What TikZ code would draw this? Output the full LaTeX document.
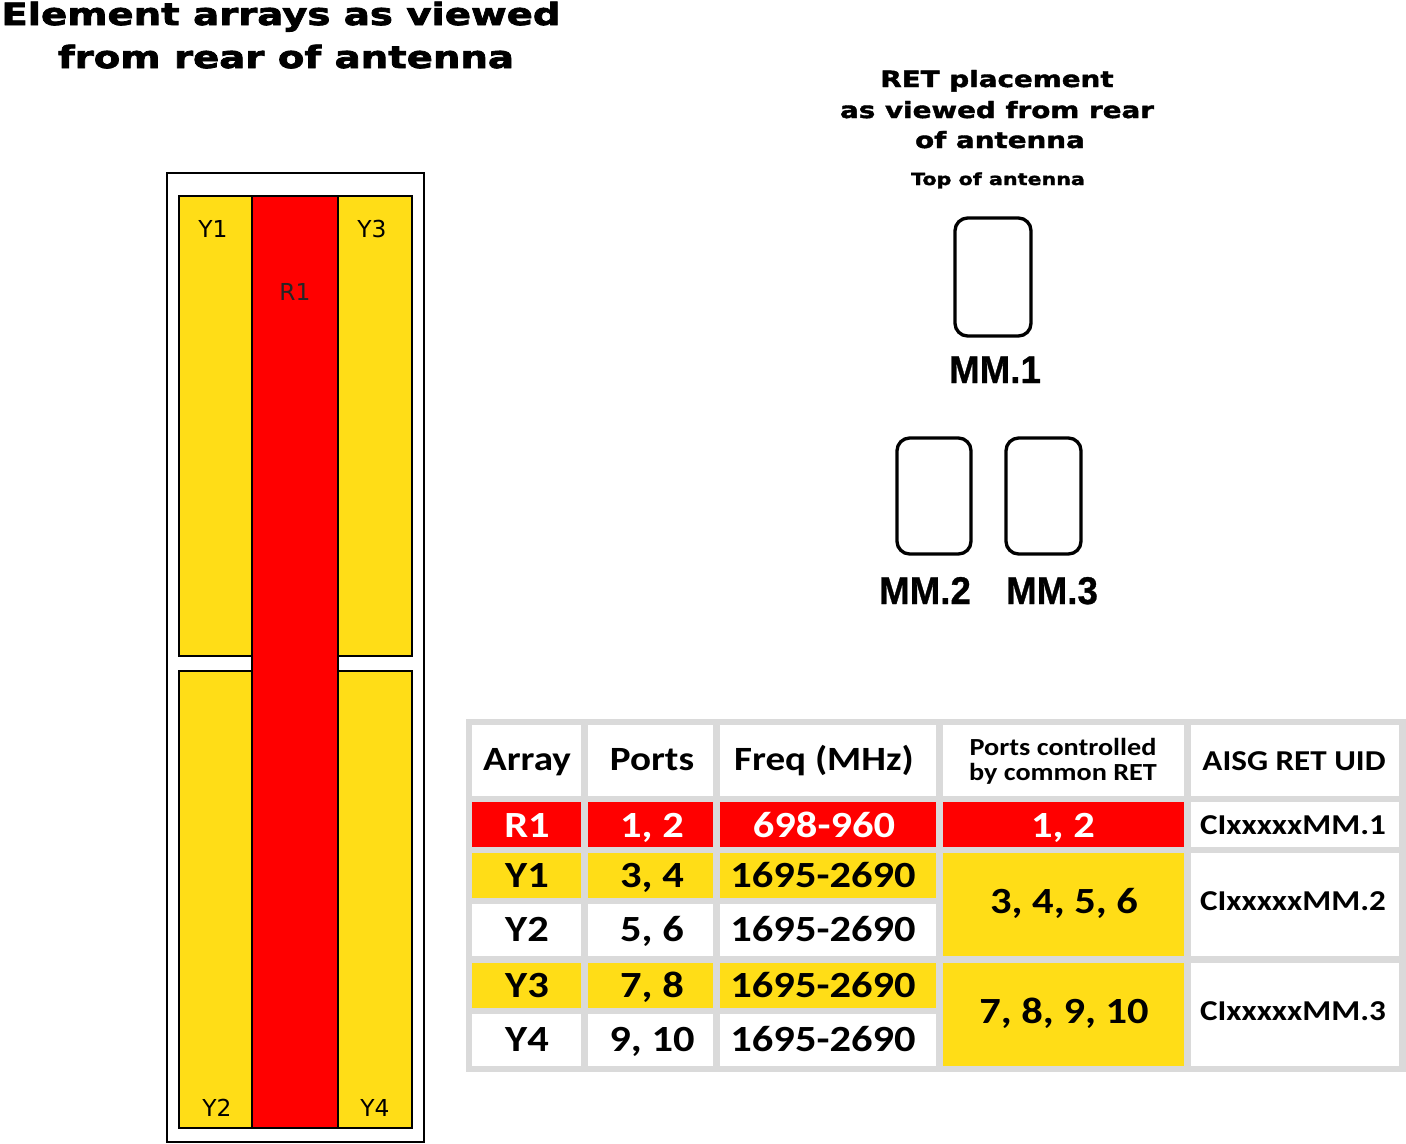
\documentclass[tikz,border=0pt]{standalone}
\usepackage{fontspec}
\newfontfamily\heavyfont{DejaVu Sans}[FakeStretch=1.26,BoldFeatures={FakeBold=2.5}]
\newfontfamily\heavysmall{DejaVu Sans}[FakeStretch=1.24,BoldFeatures={FakeBold=1.8}]
\newfontfamily\calfont{Carlito}[FakeStretch=1.15]
\newfontfamily\arialfont{Liberation Sans}[FakeStretch=0.95,BoldFeatures={FakeBold=0.8}]
\newfontfamily\verdfont{DejaVu Sans}
\definecolor{ayellow}{RGB}{255,221,23}
\definecolor{ared}{RGB}{255,0,0}
\definecolor{tgray}{RGB}{218,218,218}
\tikzset{
  elem/.style={line width=2.2pt, draw=black},
  retbox/.style={line width=2.5pt, draw=black, rounded corners=9.5pt},
  elab/.style={font=\verdfont\fontsize{17.5}{19}\selectfont, inner sep=0pt},
  mmlab/.style={font=\arialfont\bfseries\fontsize{29}{32}\selectfont, inner sep=0pt, anchor=base},
  ttl/.style={font=\heavyfont\bfseries\fontsize{23}{26}\selectfont, inner sep=0pt, anchor=base},
  rttl/.style={font=\heavysmall\bfseries\fontsize{16.8}{20}\selectfont, inner sep=0pt, anchor=base},
  hdr/.style={font=\calfont\bfseries\fontsize{25.5}{28}\selectfont, inner sep=0pt, anchor=base},
  hdrs/.style={font=\calfont\bfseries\fontsize{18.4}{20}\selectfont, inner sep=0pt, anchor=base},
  body/.style={font=\calfont\bfseries\fontsize{27.7}{30}\selectfont, inner sep=0pt, anchor=base},
  uid/.style={font=\calfont\bfseries\fontsize{21.6}{24}\selectfont, inner sep=0pt, anchor=base},
}
\begin{document}
\begin{tikzpicture}[x=0.75pt,y=-0.75pt]
\useasboundingbox[fill=white] (0,0) rectangle (1406,1143);

% titles
\node[ttl] (t1) at (281,25) {Element arrays as viewed};
\node[ttl] (t2) at (286,68) {from rear of antenna};
\node[rttl] (r1) at (997,87) {RET placement};
\node[rttl] (r2) at (997,118) {as viewed from rear};
\node[rttl] (r3) at (1000,148) {of antenna};
\node[font=\heavysmall\bfseries\fontsize{12.5}{14}\selectfont, inner sep=0pt, anchor=base] (top) at (998,185) {Top of antenna};

% antenna
\draw[line width=1.1pt] (167,173) rectangle (424,1142);
\fill[ayellow] (179,196) rectangle (252,656);
\draw[elem] (179,196) rectangle (252,656);
\fill[ayellow] (338,196) rectangle (412,656);
\draw[elem] (338,196) rectangle (412,656);
\fill[ayellow] (179,671) rectangle (252,1128);
\draw[elem] (179,671) rectangle (252,1128);
\fill[ayellow] (338,671) rectangle (412,1128);
\draw[elem] (338,671) rectangle (412,1128);
\fill[ared] (252,196) rectangle (338,1128);
\draw[elem] (252,196) rectangle (338,1128);
\node[elab] (ly1) at (213,229) {Y1};
\node[elab] (ly3) at (372,229) {Y3};
\node[elab, text=black!85] (lr1) at (295,292) {R1};
\node[elab] (ly2) at (217,1108) {Y2};
\node[elab] (ly4) at (375,1108) {Y4};

% RET boxes
\draw[retbox] (955,218) rectangle (1031,336);
\draw[retbox] (897,438) rectangle (971,554);
\draw[retbox] (1006,438) rectangle (1081,554);
\node[mmlab] (mm1) at (995,383) {MM.1};
\node[mmlab] (mm2) at (925,604) {MM.2};
\node[mmlab] (mm3) at (1052,604) {MM.3};

% table
\fill[tgray] (466,719) rectangle (1406,1072);
% header
\fill[white] (472,725) rectangle (581,796);
\fill[white] (588,725) rectangle (713,796);
\fill[white] (720,725) rectangle (936,796);
\fill[white] (943,725) rectangle (1184,796);
\fill[white] (1191,725) rectangle (1399,796);
% R1 row
\fill[ared] (472,802) rectangle (581,847);
\fill[ared] (588,802) rectangle (713,847);
\fill[ared] (720,802) rectangle (936,847);
\fill[ared] (943,802) rectangle (1184,847);
\fill[white] (1191,802) rectangle (1399,847);
% Y1 row
\fill[ayellow] (472,853) rectangle (581,898);
\fill[ayellow] (588,853) rectangle (713,898);
\fill[ayellow] (720,853) rectangle (936,898);
% Y2 row
\fill[white] (472,904) rectangle (581,956);
\fill[white] (588,904) rectangle (713,956);
\fill[white] (720,904) rectangle (936,956);
% Y3 row
\fill[ayellow] (472,963) rectangle (581,1008);
\fill[ayellow] (588,963) rectangle (713,1008);
\fill[ayellow] (720,963) rectangle (936,1008);
% Y4 row
\fill[white] (472,1014) rectangle (581,1066);
\fill[white] (588,1014) rectangle (713,1066);
\fill[white] (720,1014) rectangle (936,1066);
% merged
\fill[ayellow] (943,853) rectangle (1184,956);
\fill[ayellow] (943,963) rectangle (1184,1066);
\fill[white] (1191,853) rectangle (1399,956);
\fill[white] (1191,963) rectangle (1399,1066);

\node[hdr] (h1) at (527,770) {Array};
\node[hdr] (h2) at (652,770) {Ports};
\node[hdr] (h3) at (824,770) {Freq (MHz)};
\node[hdrs] (h4a) at (1063,755) {Ports controlled};
\node[hdrs] (h4b) at (1063,780) {by common RET};
\node[uid] (h5) at (1294,770) {AISG RET UID};

\node[body, text=white] (c11) at (527,837) {R1};
\node[body, text=white] (c12) at (652,837) {1, 2};
\node[body, text=white] (c13) at (824,837) {698-960};
\node[body, text=white] (c14) at (1063,837) {1, 2};
\node[uid] (c15) at (1293,834) {CIxxxxxMM.1};

\node[body] (c21) at (527,887) {Y1};
\node[body] (c22) at (652,887) {3, 4};
\node[body] (c23) at (823,887) {1695-2690};
\node[body] (c31) at (527,941) {Y2};
\node[body] (c32) at (652,941) {5, 6};
\node[body] (c33) at (823,941) {1695-2690};
\node[body] (c41) at (527,997) {Y3};
\node[body] (c42) at (652,997) {7, 8};
\node[body] (c43) at (823,997) {1695-2690};
\node[body] (c51) at (527,1051) {Y4};
\node[body] (c52) at (652,1051) {9, 10};
\node[body] (c53) at (823,1051) {1695-2690};

\node[body] (m1) at (1064,913) {3, 4, 5, 6};
\node[body] (m2) at (1064,1023) {7, 8, 9, 10};
\node[uid] (u2) at (1293,910) {CIxxxxxMM.2};
\node[uid] (u3) at (1293,1020) {CIxxxxxMM.3};
\end{tikzpicture}
\end{document}
